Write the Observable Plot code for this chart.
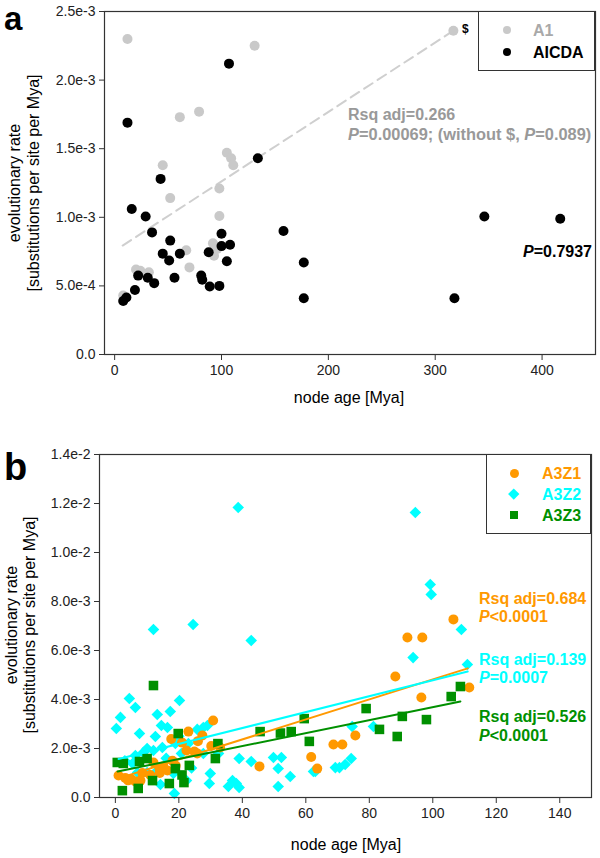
<!DOCTYPE html>
<html><head><meta charset="utf-8">
<script src="https://cdn.jsdelivr.net/npm/d3@7"></script>
<script src="https://cdn.jsdelivr.net/npm/@observablehq/plot@0.6"></script>
<style>
body{margin:0;background:#fff;}
#wrap{position:relative;width:600px;height:858px;font-family:"Liberation Sans",Arial,sans-serif;overflow:hidden;}
.t{position:absolute;white-space:nowrap;line-height:1;}
.svgbox{position:absolute;left:0;}
</style></head>
<body><div id="wrap"></div>
<script>
// ---------- Panel a data: [node age (Mya), evolutionary rate] ----------
const a1 = [[8,0.43e-3],[12,2.30e-3],[20,0.62e-3],[24,0.61e-3],[32,0.60e-3],[45,1.38e-3],[52,1.14e-3],[61,1.73e-3],[67,0.76e-3],[70,0.635e-3],[79,1.77e-3],[92,0.81e-3],[93,0.72e-3],[96,0.77e-3],[98,1.21e-3],[98,1.01e-3],[105,1.47e-3],[109,1.43e-3],[111,1.38e-3],[131,2.25e-3],[317,2.36e-3]];
const aicda = [[8,0.39e-3],[11,0.415e-3],[12,1.69e-3],[16,1.06e-3],[19,0.47e-3],[22,0.575e-3],[29,1.006e-3],[31,0.56e-3],[35,0.89e-3],[37,0.52e-3],[43,1.28e-3],[45,0.735e-3],[51,0.685e-3],[52,0.83e-3],[56,0.56e-3],[61,0.735e-3],[81,0.575e-3],[82,0.545e-3],[88,0.745e-3],[89,0.495e-3],[98,0.50e-3],[100,0.88e-3],[100,0.79e-3],[105,0.68e-3],[107,2.12e-3],[108,0.80e-3],[134,1.43e-3],[158,0.90e-3],[177,0.67e-3],[177,0.41e-3],[318,0.41e-3],[346,1.006e-3],[417,0.99e-3]];
const a1Fit = [[7.5,0.794e-3],[317,2.36e-3]];
const aXTicks = [0,100,200,300,400];
const aYTicks = [0,0.5e-3,1.0e-3,1.5e-3,2.0e-3,2.5e-3];

// ---------- Panel b data ----------
const a3z1 = [[1,0.9e-3],[3.1,0.8e-3],[4,0.7e-3],[5,0.75e-3],[6.3,0.65e-3],[7.9,0.69e-3],[8.5,1.0e-3],[11,0.92e-3],[12,1.43e-3],[13.9,1.18e-3],[14,1.0e-3],[15.1,1.27e-3],[16.4,1.1e-3],[17.6,2.39e-3],[18,1.5e-3],[19,1.3e-3],[21,2.24e-3],[22.4,1.92e-3],[23,2.69e-3],[24.9,1.88e-3],[25.8,1.80e-3],[26,2.3e-3],[27.4,2.53e-3],[30.2,2.1e-3],[30.8,3.14e-3],[33,2.04e-3],[45.4,1.27e-3],[61.7,1.65e-3],[63.6,1.18e-3],[68.7,2.16e-3],[71.5,2.16e-3],[75.6,2.53e-3],[88.2,4.94e-3],[92,6.53e-3],[96.4,4.08e-3],[96.7,6.53e-3],[106.5,7.27e-3],[111.5,4.49e-3]];
const a3z2 = [[0.3,2.82e-3],[1.6,3.27e-3],[3,1.5e-3],[4.4,4.04e-3],[5.4,1.39e-3],[6.3,3.67e-3],[6.3,1.71e-3],[7,1.02e-3],[7.6,2.61e-3],[8.8,1.84e-3],[10,1.02e-3],[10,2.0e-3],[12,6.86e-3],[12,1.92e-3],[12.6,2.49e-3],[12.6,1.02e-3],[13.2,3.39e-3],[14.2,0.53e-3],[14.5,2.94e-3],[14.8,2.04e-3],[16,1.6e-3],[16.4,2.86e-3],[17.3,3.51e-3],[18.3,0.98e-3],[18.6,0.16e-3],[18.9,2.20e-3],[20,2.5e-3],[20.2,3.96e-3],[20.8,1.8e-3],[22.4,0.69e-3],[23,2.20e-3],[24,1.2e-3],[24.5,7.06e-3],[25.8,2.78e-3],[27.7,2.86e-3],[27.7,1.8e-3],[29,2.94e-3],[29.6,0.57e-3],[29.9,0.98e-3],[32.5,1.8e-3],[35.6,0.45e-3],[36.9,0.69e-3],[38.1,0.57e-3],[38.7,11.84e-3],[39,0.41e-3],[39,1.59e-3],[42.8,6.41e-3],[42.8,1.47e-3],[49.8,1.63e-3],[51.3,1.18e-3],[51.3,0.45e-3],[52.3,1.63e-3],[55.1,0.86e-3],[62.4,1.06e-3],[63,1.06e-3],[69.3,1.22e-3],[70.6,1.22e-3],[72.4,1.35e-3],[74.3,1.59e-3],[74.6,2.90e-3],[81.3,2.90e-3],[93.8,5.71e-3],[94.5,11.63e-3],[99.2,8.69e-3],[99.5,8.29e-3],[109,6.86e-3],[110.9,5.43e-3]];
const a3z3 = [[0.6,1.43e-3],[2.2,0.28e-3],[2.5,1.39e-3],[7.2,0.37e-3],[7.6,1.47e-3],[10,1.59e-3],[11.7,0.69e-3],[12,4.57e-3],[17,0.57e-3],[18.9,1.18e-3],[19.8,2.61e-3],[21,0.92e-3],[21.6,0.61e-3],[23.3,1.31e-3],[31.5,1.59e-3],[32.3,2.2e-3],[45.6,2.69e-3],[52,2.63e-3],[55.4,2.69e-3],[59.5,3.22e-3],[61.1,2.29e-3],[79,3.63e-3],[83.2,2.78e-3],[88.8,2.49e-3],[90.4,3.31e-3],[98,3.18e-3],[105.8,4.12e-3],[108.7,4.53e-3]];
const a3z1Fit = [[1,0.78e-3],[111,5.27e-3]];
const a3z2Fit = [[1,1.57e-3],[111,5.14e-3]];
const a3z3Fit = [[0.7,1.06e-3],[108.7,3.92e-3]];
const bXTicks = [0,20,40,60,80,100,120,140];
const bYTicks = [0,2e-3,4e-3,6e-3,8e-3,10e-3,12e-3,14e-3];

const ORANGE = "#ff9900", CYAN = "#00ffff", GREEN = "#009000", GRAY = "#c9c9c9";
const FONT = '"Liberation Sans", Arial, sans-serif';
const fmt = d => d === 0 ? "0.0" : d.toExponential(1);
const X = d => d[0], Y = d => d[1];

const wrap = document.getElementById("wrap");
function place(svg, top) {
  const box = document.createElement("div");
  box.className = "svgbox"; box.style.top = top + "px";
  box.appendChild(svg); wrap.appendChild(box);
}
function txt(html, x, yc, fs, o = {}) {
  const el = document.createElement("div");
  el.className = "t";
  el.innerHTML = html;
  el.style.fontSize = fs + "px";
  el.style.color = o.color || "#000";
  el.style.fontWeight = o.bold ? "bold" : "normal";
  el.style.top = (yc - 0.4865 * fs) + "px";
  if (o.anchor === "end") el.style.right = (600 - x) + "px";
  else if (o.anchor === "middle") { el.style.left = x + "px"; el.style.transform = "translateX(-50%)"; }
  else el.style.left = x + "px";
  wrap.appendChild(el);
  return el;
}
function vtxt(s, xc, yc, fs) {
  const el = document.createElement("div");
  el.className = "t";
  el.textContent = s;
  el.style.fontSize = fs + "px";
  el.style.left = xc + "px"; el.style.top = yc + "px";
  el.style.transform = "translate(-50%,-50%) rotate(-90deg)";
  wrap.appendChild(el);
}
function box(l, t, w, h) {
  const el = document.createElement("div");
  el.style.cssText = `position:absolute;left:${l}px;top:${t}px;width:${w}px;height:${h}px;border:1px solid #333;box-sizing:border-box;background:#fff;`;
  wrap.appendChild(el);
}
function sym(shape, xc, yc, size, color) {
  const el = document.createElement("div");
  let s = `position:absolute;width:${size}px;height:${size}px;left:${xc - size/2}px;top:${yc - size/2}px;background:${color};`;
  if (shape === "circle") s += "border-radius:50%;";
  if (shape === "diamond") s += "transform:rotate(45deg);";
  el.style.cssText = s;
  wrap.appendChild(el);
}

const common = {
  style: {fontFamily: FONT, fontSize: "14px", color: "#222", background: "transparent", overflow: "visible"}
};

// ---------- Panel a ----------
const plotA = Plot.plot({
  ...common,
  width: 600, height: 420,
  marginLeft: 104, marginTop: 11, marginRight: 5, marginBottom: 66,
  x: {domain: [-9.5, 450]},
  y: {domain: [0, 2.5e-3]},
  marks: [
    Plot.axisX({ticks: aXTicks, tickSize: 6, tickPadding: 5, label: null, stroke: "#333"}),
    Plot.axisY({ticks: aYTicks, tickFormat: fmt, tickSize: 5, tickPadding: 4, label: null, stroke: "#333"}),
    Plot.line(a1Fit, {x: X, y: Y, stroke: "#cfcfcf", strokeWidth: 2, strokeDasharray: "10,6"}),
    Plot.dot(a1, {x: X, y: Y, r: 5, fill: GRAY}),
    Plot.dot(aicda, {x: X, y: Y, r: 5, fill: "#000"}),
    Plot.frame({stroke: "#333", strokeWidth: 1.2})
  ]
});
place(plotA, 0);

// ---------- Panel b ----------
const plotB = Plot.plot({
  ...common,
  width: 600, height: 428,
  marginLeft: 99, marginTop: 24, marginRight: 9, marginBottom: 61,
  x: {domain: [-5, 150]},
  y: {domain: [0, 0.014]},
  marks: [
    Plot.axisX({ticks: bXTicks, tickSize: 6, tickPadding: 5, label: null, stroke: "#333"}),
    Plot.axisY({ticks: bYTicks, tickFormat: fmt, tickSize: 5, tickPadding: 4, label: null, stroke: "#333"}),
    Plot.dot(a3z2, {x: X, y: Y, r: 5.2, symbol: "diamond2", fill: CYAN}),
    Plot.dot(a3z1, {x: X, y: Y, r: 5, symbol: "circle", fill: ORANGE}),
    Plot.dot(a3z3, {x: X, y: Y, r: 5.4, symbol: "square", fill: GREEN}),
    Plot.line(a3z1Fit, {x: X, y: Y, stroke: ORANGE, strokeWidth: 2}),
    Plot.line(a3z2Fit, {x: X, y: Y, stroke: CYAN, strokeWidth: 2}),
    Plot.line(a3z3Fit, {x: X, y: Y, stroke: GREEN, strokeWidth: 2}),
    Plot.frame({stroke: "#333", strokeWidth: 1.2})
  ]
});
place(plotB, 430);

// ---------- Panel a text ----------
const la = txt("a", 4, 0, 33, {bold: true});
la.style.top = "0px"; la.style.lineHeight = "normal";
vtxt("evolutionary rate", 15, 183, 16);
vtxt("[substitutions per site per Mya]", 34, 183, 16);
txt("node age [Mya]", 349, 398, 16, {anchor: "middle"});
box(478, 11, 117, 60);
sym("circle", 507, 30, 8, GRAY);
sym("circle", 507, 52, 8, "#000");
txt("A1", 533, 30.5, 16, {bold: true, color: "#a9a9a9"});
txt("AICDA", 533, 52.5, 16, {bold: true});
txt("$", 462, 29, 12, {bold: true});
txt("Rsq adj=0.266", 348, 115, 16, {bold: true, color: "#999"});
txt("<i>P</i>=0.00069; (without $, <i>P</i>=0.089)", 348, 133.5, 16.4, {bold: true, color: "#999"});
txt("<i>P</i>=0.7937", 592, 252, 16, {bold: true, anchor: "end"});

// ---------- Panel b text ----------
txt("b", 4, 466, 38, {bold: true});
vtxt("evolutionary rate", 12, 625, 16);
vtxt("[substitutions per site per Mya]", 30, 625, 16);
txt("node age [Mya]", 346, 845, 16, {anchor: "middle"});
box(486, 454, 105, 80);
sym("circle", 514, 473, 9, ORANGE);
sym("diamond", 514, 494, 7.5, CYAN);
sym("square", 514, 515, 8, GREEN);
txt("A3Z1", 542, 474, 16, {bold: true, color: ORANGE});
txt("A3Z2", 542, 495, 16, {bold: true, color: CYAN});
txt("A3Z3", 542, 515.5, 16, {bold: true, color: GREEN});
txt("Rsq adj=0.684", 479, 599, 16, {bold: true, color: ORANGE});
txt("<i>P</i>&lt;0.0001", 479, 616.5, 16, {bold: true, color: ORANGE});
txt("Rsq adj=0.139", 479, 660, 16, {bold: true, color: CYAN});
txt("<i>P</i>=0.0007", 479, 677.5, 16, {bold: true, color: CYAN});
txt("Rsq adj=0.526", 479, 717, 16, {bold: true, color: GREEN});
txt("<i>P</i>&lt;0.0001", 479, 736, 16, {bold: true, color: GREEN});
</script>
</body></html>
